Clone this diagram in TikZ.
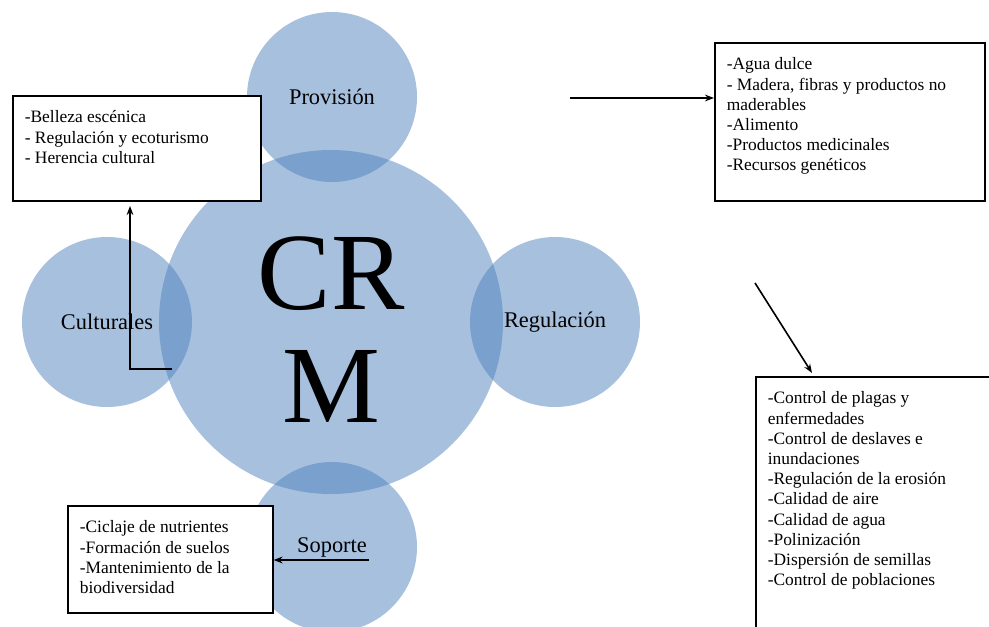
\documentclass[tikz,border=0pt]{standalone}
\usepackage{fontspec}
\setmainfont{Liberation Serif}
\usetikzlibrary{arrows.meta}
\definecolor{ringblue}{RGB}{79,129,189}
\newcommand{\boxlines}[3]{\parbox[c][#1][t]{#2}{\raggedright #3}}

\begin{document}
\begin{tikzpicture}[x=0.5pt,y=-0.5pt]
  \tikzstyle{ring}=[circle,fill=ringblue,fill opacity=0.5,text opacity=1,inner sep=0pt,minimum size=85pt,font=\fontsize{11.2}{13}\selectfont]
  \tikzstyle{box}=[rectangle,draw,fill=white,line width=0.8pt,anchor=north west,inner xsep=6pt,inner ysep=7.5pt,font=\fontsize{8.7}{10.1}\selectfont]
  \tikzstyle{arrow}=[draw,line width=0.8pt,-{Stealth[length=4.5pt]}]
  \clip (0,0) rectangle (989,626);
  % circles
  \node [ring,minimum size=172pt] (crm) at (331,322) {};
  \node [align=center,font=\fontsize{55}{56.5}\selectfont] (crmtext) at (331,330) {CR\\M};
  \node [ring] (prov) at (332,97)  {Provisión};
  \node [ring] (cult) at (107,322) {Culturales};
  \node [ring] (reg)  at (555,322) {Regulación};
  \node [ring] (sup)  at (332,547) {Soporte};
  % boxes
  \node [box] (cultbox) at (12,95) {\boxlines{37.5pt}{112pt}{-Belleza escénica\\- Regulación y ecoturismo\\- Herencia cultural}};
  \node [box] (provbox) at (714,42) {\boxlines{64pt}{123pt}{-Agua dulce\\- Madera, fibras y productos no\\maderables\\-Alimento\\-Productos medicinales\\-Recursos genéticos}};
  \node [box] (regbox) at (755,376) {\boxlines{117pt}{110.5pt}{-Control de plagas y\\enfermedades\\-Control de deslaves e\\inundaciones\\-Regulación de la erosión\\-Calidad de aire\\-Calidad de agua\\-Polinización\\-Dispersión de semillas\\-Control de poblaciones}};
  \node [box] (supbox) at (67,505) {\boxlines{38.5pt}{90.5pt}{-Ciclaje de nutrientes\\-Formación de suelos\\-Mantenimiento de la\\biodiversidad}};
  % arrows
  \coordinate (provfrom) at (570,98);
  \coordinate (regfrom) at (755,283);
  \coordinate (regto) at (812,373);
  \coordinate (supfrom) at (369,560);
  \coordinate (cultfrom) at (172,369);
  \coordinate (cultto) at (130,206);
  \draw [arrow] (provfrom) -- (provfrom -| provbox.west);
  \draw [arrow] (regfrom) -- (regto);
  \draw [arrow] (supfrom) -- (supfrom -| supbox.east);
  \draw [arrow] (cultfrom) -| (cultto);
\end{tikzpicture}
\end{document}
